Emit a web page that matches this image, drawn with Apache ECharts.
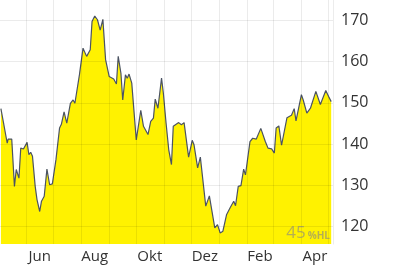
<!DOCTYPE html>
<html>
<head>
<meta charset="utf-8">
<style>
  html, body { margin: 0; padding: 0; background: #ffffff; }
  #chart { width: 400px; height: 268px; }
</style>
<script src="https://cdn.jsdelivr.net/npm/echarts@6/dist/echarts.min.js"></script>
</head>
<body>
<div id="chart"></div>
<script>
// ---- data ----
var priceDates = [
  '2023-05-04','2023-05-07','2023-05-10','2023-05-11','2023-05-12','2023-05-14','2023-05-16','2023-05-19','2023-05-21','2023-05-24',
  '2023-05-26','2023-05-29','2023-06-02','2023-06-04','2023-06-06','2023-06-08','2023-06-11','2023-06-13','2023-06-16','2023-06-18',
  '2023-06-21','2023-06-24','2023-06-27','2023-06-30','2023-07-04','2023-07-08','2023-07-10','2023-07-13','2023-07-16','2023-07-20',
  '2023-07-23','2023-07-25','2023-07-30','2023-08-03','2023-08-07','2023-08-11','2023-08-13','2023-08-16','2023-08-19','2023-08-22',
  '2023-08-25','2023-08-28','2023-09-01','2023-09-06','2023-09-09','2023-09-11','2023-09-14','2023-09-16','2023-09-19','2023-09-21',
  '2023-09-23','2023-09-26','2023-10-01','2023-10-06','2023-10-09','2023-10-14','2023-10-17','2023-10-20','2023-10-22','2023-10-25',
  '2023-10-29','2023-10-31','2023-11-03','2023-11-06','2023-11-09','2023-11-11','2023-11-17','2023-11-20','2023-11-23','2023-11-28',
  '2023-12-02','2023-12-04','2023-12-08','2023-12-11','2023-12-17','2023-12-21','2023-12-27','2023-12-30','2024-01-02','2024-01-05',
  '2024-01-09','2024-01-13','2024-01-17','2024-01-19','2024-01-22','2024-01-25','2024-01-28','2024-01-30','2024-02-04','2024-02-07',
  '2024-02-11','2024-02-16','2024-02-21','2024-02-24','2024-02-28','2024-03-02','2024-03-04','2024-03-07','2024-03-10','2024-03-16',
  '2024-03-18','2024-03-21','2024-03-24','2024-03-26','2024-04-01','2024-04-03','2024-04-07','2024-04-11','2024-04-17','2024-04-22',
  '2024-04-28','2024-05-01','2024-05-04'
];
var priceValues = [
  148.6,145.0,141.4,140.2,141.2,141.0,141.2,129.7,133.8,131.7,
  139.0,138.8,140.4,137.4,138.0,137.0,129.7,126.5,123.6,126.1,
  127.3,133.9,130.1,130.3,136.2,143.9,144.8,147.8,145.1,149.9,
  150.7,149.9,156.8,163.3,161.3,162.9,169.8,171.1,170.2,167.7,
  170.3,160.5,156.4,155.8,154.6,161.3,157.2,150.7,156.8,156.0,
  157.0,154.8,141.0,148.2,144.3,142.3,145.5,146.3,150.9,148.7,
  156.0,152.4,145.1,138.6,135.0,144.3,145.2,144.7,145.2,136.8,
  140.9,139.8,134.2,136.8,124.9,127.4,119.6,120.4,118.4,118.8,
  122.8,124.5,126.1,125.0,129.7,129.9,133.9,132.5,140.6,141.4,
  141.2,143.8,140.6,139.0,138.8,137.8,143.9,144.4,139.7,146.4,
  146.1,147.0,148.6,145.6,152.0,150.7,147.5,148.7,152.8,149.6,
  153.0,151.6,150.3
];
var monthStarts = [
  '2023-06-01','2023-07-01','2023-08-01','2023-09-01','2023-10-01','2023-11-01',
  '2023-12-01','2024-01-01','2024-02-01','2024-03-01','2024-04-01','2024-05-01'
];
var tickLabels = ['Jun','Aug','Okt','Dez','Feb','Apr'];
var tickLabelDates = ['2023-06-16','2023-08-16','2023-10-16','2023-12-16','2024-02-15','2024-04-16'];
var yTicks = [120,130,140,150,160,170];
var xMin = '2023-05-03';
var xMax = '2024-05-06';
var yMin = 115.7;
var yMax = 175;
var badgeNumber = '45';
var badgeUnit = '%HL';

function parseDay(s) {
  var p = s.split('-');
  return new Date(+p[0], +p[1] - 1, +p[2]).getTime();
}
var labelTimes = tickLabelDates.map(parseDay);
var seriesData = priceDates.map(function (d, i) { return [parseDay(d), priceValues[i]]; });

var chart = echarts.init(document.getElementById('chart'), null, { renderer: 'canvas' });
var FONT = '"Open Sans", "Noto Sans", sans-serif';
chart.setOption({
  animation: false,
  backgroundColor: '#ffffff',
  grid: { left: 0, right: 67, top: 0, bottom: 24, containLabel: false },
  xAxis: {
    type: 'value',
    min: parseDay(xMin),
    max: parseDay(xMax),
    axisLine: { show: false },
    axisTick: { show: false, customValues: monthStarts.map(parseDay) },
    splitLine: { show: true, lineStyle: { color: 'rgba(0,0,0,0.08)', width: 1 } },
    axisLabel: {
      customValues: labelTimes,
      color: '#333333',
      fontFamily: FONT,
      fontSize: 15,
      margin: 5,
      hideOverlap: false,
      formatter: function (value) {
        for (var i = 0; i < labelTimes.length; i++) {
          if (Math.abs(labelTimes[i] - value) < 43200000) return tickLabels[i];
        }
        return '';
      }
    },
    z: 3
  },
  yAxis: {
    type: 'value',
    position: 'right',
    min: yMin,
    max: yMax,
    axisLine: { show: true, lineStyle: { color: '#ececec', width: 1 } },
    axisTick: { show: false, customValues: yTicks },
    splitLine: { show: true, lineStyle: { color: 'rgba(0,0,0,0.08)', width: 1 } },
    axisLabel: {
      customValues: yTicks,
      color: '#333333',
      fontFamily: FONT,
      fontSize: 16,
      margin: 8
    },
    z: 3
  },
  graphic: [{
    type: 'text',
    x: 330,
    y: 242,
    z: 10,
    style: {
      text: '{a|' + badgeNumber + '}{b|' + badgeUnit + '}',
      align: 'right',
      verticalAlign: 'bottom',
      rich: {
        a: { fontFamily: FONT, fontSize: 17, fill: 'rgba(120,120,150,0.55)', padding: [0, 2, 0, 0] },
        b: { fontFamily: FONT, fontSize: 10, fontWeight: 'bold', fill: 'rgba(120,120,150,0.55)', verticalAlign: 'bottom', padding: [0, 0, 1, 0] }
      }
    }
  }],
  series: [{
    type: 'line',
    data: seriesData,
    symbol: 'none',
    smooth: false,
    lineStyle: { color: '#4b5363', width: 1.2 },
    areaStyle: { color: '#fff200', opacity: 1, origin: 'start' },
    z: 2
  }]
});
</script>
</body>
</html>
